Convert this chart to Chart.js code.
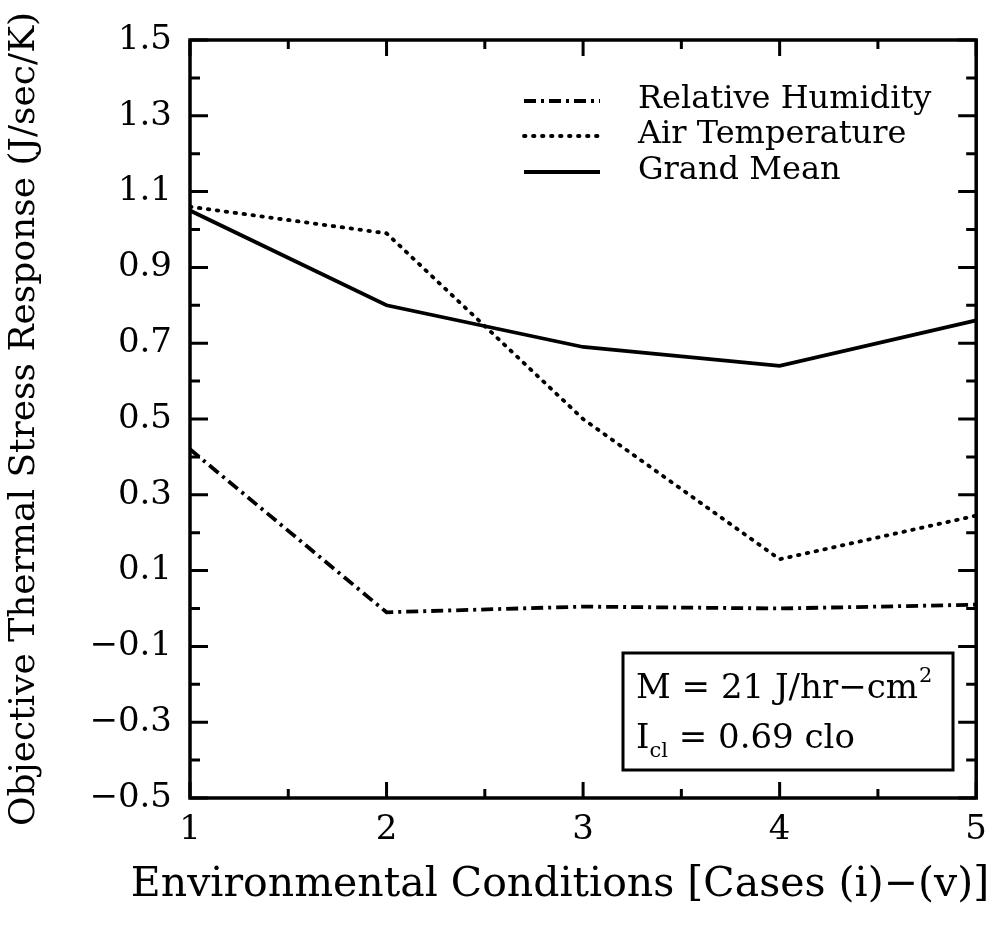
<!DOCTYPE html>
<html><head><meta charset="utf-8">
<script src="https://cdn.jsdelivr.net/npm/chart.js@4"></script>
<style>html,body{margin:0;padding:0;background:#fff}#wrap{width:999px;height:942px;position:relative}</style>
</head><body><div id="wrap"><canvas id="c" width="999" height="942"></canvas></div>
<script>
// ---- data ----
const cases = [1, 2, 3, 4, 5];
const relativeHumidity = [0.42, -0.01, 0.005, 0.0, 0.01];
const airTemperature = [1.06, 0.99, 0.50, 0.13, 0.245];
const grandMean = [1.05, 0.80, 0.69, 0.64, 0.76];
const seriesNames = ['Relative Humidity', 'Air Temperature', 'Grand Mean'];
const xTicks = [1, 2, 3, 4, 5];
const yTicks = [-0.5, -0.3, -0.1, 0.1, 0.3, 0.5, 0.7, 0.9, 1.1, 1.3, 1.5];
const xTitle = 'Environmental Conditions [Cases (i)\u2212(v)]';
const yTitle = 'Objective Thermal Stress Response (J/sec/K)';
const noteM = ['M = 21 J/hr\u2212cm', '2'];
const noteI = ['I', 'cl', ' = 0.69 clo'];

const FONT = '"DejaVu Serif", serif';
const toPts = arr => cases.map((c, i) => ({x: c, y: arr[i]}));

const styles = [
  {borderDash: [12, 5, 3, 5], borderCapStyle: 'butt'},
  {borderDash: [1.5, 7.5], borderCapStyle: 'round'},
  {borderDash: [], borderCapStyle: 'butt'}
];

const decor = {
  id: 'decor',
  afterDatasetsDraw(chart) {
    const {ctx, chartArea: a, scales: {x, y}} = chart;
    ctx.save();
    ctx.strokeStyle = '#000';
    ctx.fillStyle = '#000';
    ctx.lineWidth = 3.5;
    ctx.setLineDash([]);
    ctx.strokeRect(a.left, a.top, a.right - a.left, a.bottom - a.top);
    ctx.lineWidth = 3;
    ctx.beginPath();
    yTicks.forEach((v, i) => {
      const py = y.getPixelForValue(v);
      ctx.moveTo(a.left, py); ctx.lineTo(a.left + 18, py);
      ctx.moveTo(a.right, py); ctx.lineTo(a.right - 18, py);
      if (i < yTicks.length - 1) {
        const pm = y.getPixelForValue(v + 0.1);
        ctx.moveTo(a.left, pm); ctx.lineTo(a.left + 10, pm);
        ctx.moveTo(a.right, pm); ctx.lineTo(a.right - 10, pm);
      }
    });
    xTicks.forEach((v, i) => {
      const px = x.getPixelForValue(v);
      ctx.moveTo(px, a.bottom); ctx.lineTo(px, a.bottom - 16);
      ctx.moveTo(px, a.top); ctx.lineTo(px, a.top + 16);
      if (i < xTicks.length - 1) {
        const pm = x.getPixelForValue(v + 0.5);
        ctx.moveTo(pm, a.bottom); ctx.lineTo(pm, a.bottom - 9);
        ctx.moveTo(pm, a.top); ctx.lineTo(pm, a.top + 9);
      }
    });
    ctx.stroke();

    // legend
    const ly = [101, 136, 172];
    const ty = [108, 143, 179];
    chart.data.datasets.forEach((ds, i) => {
      ctx.save();
      ctx.lineWidth = ds.borderWidth;
      ctx.setLineDash(ds.borderDash || []);
      ctx.lineCap = ds.borderCapStyle || 'butt';
      ctx.beginPath();
      ctx.moveTo(524, ly[i]); ctx.lineTo(600, ly[i]);
      ctx.stroke();
      ctx.restore();
      ctx.font = '32px ' + FONT;
      ctx.textBaseline = 'alphabetic';
      ctx.textAlign = 'left';
      ctx.fillText(ds.label, 638, ty[i]);
    });

    // note box
    ctx.setLineDash([]);
    ctx.lineWidth = 3;
    ctx.fillStyle = '#fff';
    ctx.fillRect(623, 653, 330, 117);
    ctx.strokeRect(623, 653, 330, 117);
    ctx.fillStyle = '#000';
    ctx.textBaseline = 'alphabetic';
    ctx.textAlign = 'left';
    ctx.font = '34px ' + FONT;
    ctx.fillText(noteM[0], 636, 698);
    let w = ctx.measureText(noteM[0]).width;
    ctx.font = '21px ' + FONT;
    ctx.fillText(noteM[1], 636 + w + 1, 682);
    ctx.font = '34px ' + FONT;
    ctx.fillText(noteI[0], 636, 748);
    w = ctx.measureText(noteI[0]).width;
    ctx.font = '21px ' + FONT;
    ctx.fillText(noteI[1], 636 + w, 757);
    const w2 = ctx.measureText(noteI[1]).width;
    ctx.font = '34px ' + FONT;
    ctx.fillText(noteI[2], 636 + w + w2, 748);

    // x axis title
    ctx.font = '41px ' + FONT;
    ctx.textAlign = 'center';
    ctx.fillText(xTitle, 560, 896);
    ctx.restore();
  }
};

const datasets = [relativeHumidity, airTemperature, grandMean].map((arr, i) => ({
  label: seriesNames[i],
  data: toPts(arr),
  borderColor: '#000',
  backgroundColor: '#000',
  borderWidth: 3.8,
  pointRadius: 0,
  tension: 0,
  fill: false,
  ...styles[i]
}));

new Chart(document.getElementById('c'), {
  type: 'line',
  data: {datasets},
  plugins: [decor],
  options: {
    responsive: false,
    animation: false,
    devicePixelRatio: 1,
    layout: {padding: {top: 40, right: 21, left: 0, bottom: 0}},
    plugins: {legend: {display: false}, tooltip: {enabled: false}},
    scales: {
      x: {
        type: 'linear', min: 1, max: 5,
        afterBuildTicks: s => { s.ticks = xTicks.map(v => ({value: v})); },
        afterFit: s => { s.height = 144; },
        grid: {display: false, drawTicks: false},
        border: {display: false},
        ticks: {color: '#000', padding: 12, maxRotation: 0, font: {family: FONT, size: 34},
          callback: v => String(v)},
        title: {display: false}
      },
      y: {
        type: 'linear', min: -0.5, max: 1.5,
        afterBuildTicks: s => { s.ticks = yTicks.map(v => ({value: v})); },
        afterFit: s => { s.width = 190; },
        grid: {display: false, drawTicks: false},
        border: {display: false},
        ticks: {color: '#000', padding: 18, font: {family: FONT, size: 34},
          callback: v => v.toFixed(1).replace('-', '\u2212')},
        title: {display: true, text: yTitle, color: '#000', padding: {top: 3, bottom: 0},
          font: {family: FONT, size: 36}}
      }
    }
  }
});
</script></body></html>
